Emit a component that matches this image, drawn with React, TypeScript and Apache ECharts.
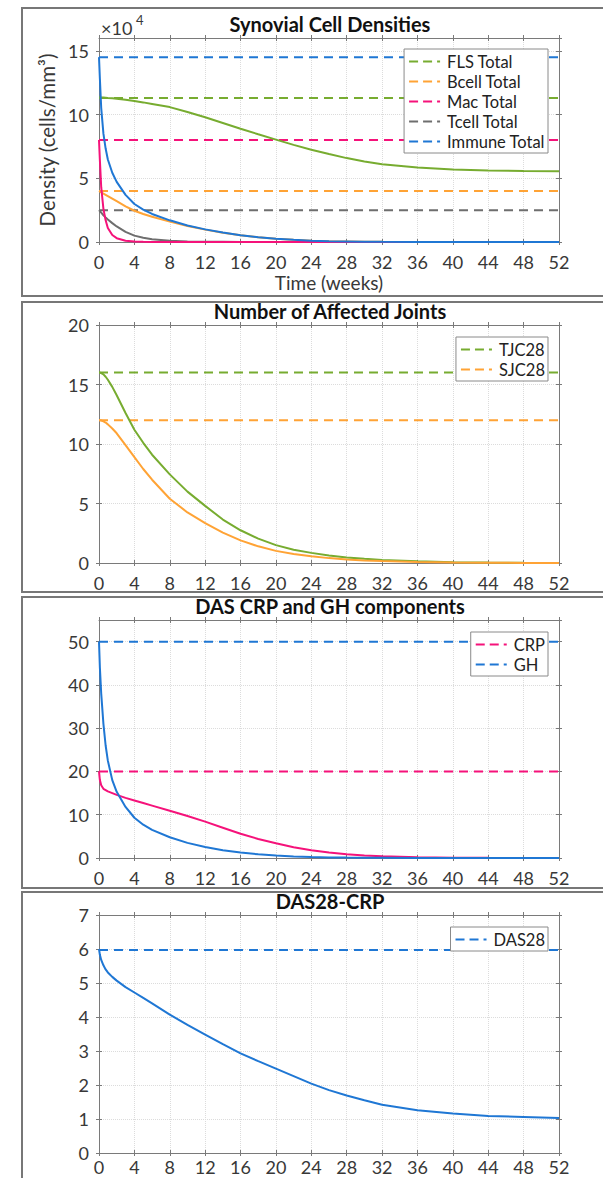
import React, { useEffect, useRef } from 'react';
import * as echarts from 'echarts';

// ---- data ----
const WEEKS = [0, 0.1, 0.25, 0.5, 0.75, 1, 1.5, 2, 3, 4, 5, 6, 8, 10, 12, 14, 16, 18, 20, 22, 24, 26, 28, 30, 32, 36, 40, 44, 48, 52];
const X_TICKS = { min: 0, max: 52, interval: 4 };

// Panel 1 (x 10^4 cells/mm^3)
const FLS = [11.35, 11.35, 11.34, 11.33, 11.32, 11.3, 11.27, 11.23, 11.15, 11.05, 10.95, 10.83, 10.58, 10.2, 9.78, 9.33, 8.88, 8.45, 8.03, 7.62, 7.24, 6.9, 6.58, 6.32, 6.1, 5.84, 5.68, 5.6, 5.57, 5.55];
const BCELL = [4.0, 3.96, 3.9, 3.8, 3.7, 3.6, 3.4, 3.2, 2.8, 2.45, 2.2, 1.98, 1.6, 1.25, 0.97, 0.73, 0.53, 0.38, 0.26, 0.17, 0.1, 0.06, 0.04, 0.02, 0.01, 0, 0, 0, 0, 0];
const MAC = [8, 6.4, 4.3, 2.6, 1.7, 1.1, 0.55, 0.3, 0.1, 0.03, 0.01, 0, 0, 0, 0, 0, 0, 0, 0, 0, 0, 0, 0, 0, 0, 0, 0, 0, 0, 0];
const TCELL = [2.5, 2.42, 2.3, 2.1, 1.93, 1.77, 1.48, 1.22, 0.8, 0.5, 0.33, 0.22, 0.1, 0.045, 0.02, 0.01, 0, 0, 0, 0, 0, 0, 0, 0, 0, 0, 0, 0, 0, 0];
const IMMUNE = [14.5, 12.8, 10.5, 8.5, 7.33, 6.47, 5.43, 4.72, 3.7, 2.98, 2.54, 2.2, 1.7, 1.3, 0.99, 0.74, 0.53, 0.38, 0.26, 0.17, 0.1, 0.06, 0.04, 0.02, 0.01, 0, 0, 0, 0, 0];
const BASE1 = { fls: 11.3, bcell: 4.0, mac: 8.0, tcell: 2.5, immune: 14.5 };

// Panel 2
const TJC = [16, 16, 15.95, 15.85, 15.65, 15.4, 14.8, 14.1, 12.6, 11.2, 10.1, 9.1, 7.45, 6.0, 4.8, 3.65, 2.75, 2.05, 1.5, 1.12, 0.85, 0.63, 0.47, 0.35, 0.26, 0.14, 0.07, 0.04, 0.02, 0.01];
const SJC = [12, 12, 11.97, 11.9, 11.8, 11.65, 11.3, 10.9, 9.9, 8.9, 7.9, 7.0, 5.4, 4.25, 3.35, 2.55, 1.9, 1.4, 1.02, 0.76, 0.56, 0.41, 0.3, 0.22, 0.16, 0.08, 0.04, 0.02, 0.01, 0];
const BASE2 = { tjc: 16, sjc: 12 };

// Panel 3
const CRP = [20, 18, 16.8, 16.0, 15.7, 15.4, 15.0, 14.6, 13.9, 13.3, 12.7, 12.1, 10.9, 9.7, 8.4, 7.0, 5.6, 4.4, 3.4, 2.5, 1.8, 1.25, 0.85, 0.58, 0.4, 0.18, 0.08, 0.04, 0.02, 0.01];
const GH = [50, 44, 38, 31, 26, 22.5, 18, 15.3, 11.8, 9.3, 7.7, 6.5, 4.8, 3.5, 2.55, 1.8, 1.25, 0.85, 0.55, 0.35, 0.22, 0.14, 0.09, 0.05, 0.03, 0.01, 0, 0, 0, 0];
const BASE3 = { crp: 20, gh: 50 };

// Panel 4
const DAS = [6.0, 5.83, 5.68, 5.52, 5.4, 5.31, 5.18, 5.07, 4.88, 4.72, 4.56, 4.4, 4.07, 3.77, 3.48, 3.2, 2.93, 2.7, 2.48, 2.26, 2.04, 1.85, 1.69, 1.55, 1.42, 1.26, 1.16, 1.09, 1.06, 1.03];
const BASE4 = { das: 5.97 };

const Y_AXES = [
  { min: 0, max: 16, interval: 5 },
  { min: 0, max: 20, interval: 5 },
  { min: 0, max: 55, interval: 10 },
  { min: 0, max: 7, interval: 1 },
];

const TITLES = ['Synovial Cell Densities', 'Number of Affected Joints', 'DAS CRP and GH components', 'DAS28-CRP'];

// ---- style ----
const FONT = 'Lato, "Noto Sans", sans-serif';
const GREEN = '#77ac30';
const ORANGE = '#ffa335';
const PINK = '#f5127a';
const GRAY = '#6e6e6e';
const BLUE = '#1f77d4';
const AX = '#7a7a7a';
const TXT = '#383838';

const GRIDS = [
  { left: 99, top: 38, width: 460, height: 204 },
  { left: 99, top: 325, width: 460, height: 238 },
  { left: 99, top: 620, width: 460, height: 238 },
  { left: 99, top: 915, width: 460, height: 238 },
];
const TITLE_Y = [24, 311, 606, 901];
const LEGEND_TOP = [49, 337, 632, 927];
const LABEL_MARGIN = [11, 11, 11, 5];
const PANELS = [
  { y: 8, h: 288 },
  { y: 302, h: 290 },
  { y: 597, h: 291 },
  { y: 892, h: 400 },
];

// dashed legend sample: dash, gap, dash, gap, dot (with corner specks to fix the box)
const DASH_ICON =
  'path://M0,0h0.05v0.05H0z M32.95,13.95h0.05V14h-0.05z M0,6h9v2H0z M14,6h9v2h-9z M28,6h3v2h-3z';

function pairs(vals: number[]) {
  return WEEKS.map((t, i) => [t, vals[i]]);
}
function flat(v: number) {
  return [[X_TICKS.min, v], [X_TICKS.max, v]];
}

function buildAxes() {
  const xAxis: any[] = [];
  const yAxis: any[] = [];
  GRIDS.forEach((_, g) => {
    const xb = { gridIndex: g, type: 'value', min: X_TICKS.min, max: X_TICKS.max, interval: X_TICKS.interval };
    const yb = { gridIndex: g, type: 'value', ...Y_AXES[g] };
    const tick = (inside: boolean) => ({ show: true, inside, length: 3, lineStyle: { color: AX, width: 1 } });
    const line = (show: boolean) => ({ show, onZero: false, lineStyle: { color: AX, width: 1 } });
    const hidden = { axisLabel: { show: false }, splitLine: { show: false } };
    xAxis.push({
      ...xb,
      position: 'bottom',
      axisLine: line(true),
      axisTick: tick(false),
      axisLabel: { show: true, margin: LABEL_MARGIN[g], color: TXT, fontSize: 18, fontFamily: FONT },
      splitLine: { show: true, lineStyle: { type: 'dotted', color: '#dcdcdc', width: 1 } },
      ...(g === 0
        ? { name: 'Time (weeks)', nameLocation: 'middle', nameGap: 31, nameTextStyle: { color: TXT, fontSize: 19, fontFamily: FONT } }
        : {}),
    });
    xAxis.push({ ...xb, position: 'bottom', axisLine: line(false), axisTick: tick(true), ...hidden });
    xAxis.push({ ...xb, position: 'top', axisLine: line(true), axisTick: tick(false), ...hidden });
    xAxis.push({ ...xb, position: 'top', axisLine: line(false), axisTick: tick(true), ...hidden });

    yAxis.push({
      ...yb,
      position: 'left',
      axisLine: line(true),
      axisTick: tick(false),
      axisLabel: {
        show: true,
        margin: 10,
        color: TXT,
        fontSize: 18,
        fontFamily: FONT,
        showMaxLabel: g === 0 || g === 2 ? false : true,
      },
      splitLine: { show: true, lineStyle: { type: 'dotted', color: '#dcdcdc', width: 1 } },
      ...(g === 0
        ? { name: 'Density (cells/mm³)', nameLocation: 'middle', nameGap: 22, nameRotate: 90, nameTextStyle: { color: TXT, fontSize: 20.5, fontFamily: FONT } }
        : {}),
    });
    yAxis.push({ ...yb, position: 'left', axisLine: line(false), axisTick: tick(true), ...hidden });
    yAxis.push({ ...yb, position: 'right', axisLine: line(true), axisTick: tick(false), ...hidden });
    yAxis.push({ ...yb, position: 'right', axisLine: line(false), axisTick: tick(true), ...hidden });
  });
  return { xAxis, yAxis };
}

function dashed(name: string, g: number, v: number, color: string) {
  return {
    name,
    type: 'line',
    xAxisIndex: 4 * g,
    yAxisIndex: 4 * g,
    data: flat(v),
    symbol: 'none',
    lineStyle: { color, width: 2, type: [9, 6] },
    itemStyle: { color },
    z: 2,
  };
}
function solid(name: string, g: number, vals: number[], color: string) {
  return {
    name,
    type: 'line',
    xAxisIndex: 4 * g,
    yAxisIndex: 4 * g,
    data: pairs(vals),
    symbol: 'none',
    smooth: false,
    lineStyle: { color, width: 2 },
    itemStyle: { color },
    z: 3,
  };
}

function legend(g: number, names: string[]) {
  return {
    orient: 'vertical',
    right: 55,
    top: LEGEND_TOP[g],
    data: names,
    icon: DASH_ICON,
    selectedMode: false,
    backgroundColor: '#ffffff',
    borderColor: '#8a8a8a',
    borderWidth: 1,
    borderRadius: 0,
    padding: [4, 3, 3, 5],
    itemWidth: 33,
    itemHeight: 14,
    itemGap: 3,
    textStyle: { color: '#222', fontSize: 16.5, fontFamily: FONT, lineHeight: 14 },
  };
}

export default function App() {
  const ref = useRef<HTMLDivElement>(null);
  useEffect(() => {
    document.body.style.margin = '0';
    if (!ref.current) return;
    const chart = echarts.init(ref.current, undefined, { renderer: 'svg' });
    const { xAxis, yAxis } = buildAxes();
    const graphic: any[] = [];
    PANELS.forEach((p) => {
      graphic.push({
        type: 'rect',
        shape: { x: 22, y: p.y, width: 700, height: p.h },
        style: { fill: 'none', stroke: '#777', lineWidth: 2 },
        z: 0,
        silent: true,
      });
    });
    TITLES.forEach((t, i) => {
      graphic.push({
        type: 'text',
        x: 330,
        y: TITLE_Y[i],
        style: { text: t, align: 'center', verticalAlign: 'middle', font: `bold 20px ${FONT}`, fill: '#111' },
        z: 10,
      });
    });
    graphic.push({
      type: 'text',
      x: 101,
      y: 28,
      style: { text: '×10', verticalAlign: 'middle', font: `18px ${FONT}`, fill: TXT },
    });
    graphic.push({
      type: 'text',
      x: 136,
      y: 20,
      style: { text: '4', verticalAlign: 'middle', font: `13px ${FONT}`, fill: TXT },
    });

    const series = [
      dashed('FLS Total', 0, BASE1.fls, GREEN),
      dashed('Bcell Total', 0, BASE1.bcell, ORANGE),
      dashed('Mac Total', 0, BASE1.mac, PINK),
      dashed('Tcell Total', 0, BASE1.tcell, GRAY),
      dashed('Immune Total', 0, BASE1.immune, BLUE),
      solid('FLS', 0, FLS, GREEN),
      solid('Bcell', 0, BCELL, ORANGE),
      solid('Tcell', 0, TCELL, GRAY),
      solid('Mac', 0, MAC, PINK),
      solid('Immune', 0, IMMUNE, BLUE),
      dashed('TJC28', 1, BASE2.tjc, GREEN),
      dashed('SJC28', 1, BASE2.sjc, ORANGE),
      solid('TJC', 1, TJC, GREEN),
      solid('SJC', 1, SJC, ORANGE),
      dashed('CRP', 2, BASE3.crp, PINK),
      dashed('GH', 2, BASE3.gh, BLUE),
      solid('CRP curve', 2, CRP, PINK),
      solid('GH curve', 2, GH, BLUE),
      dashed('DAS28', 3, BASE4.das, BLUE),
      solid('DAS28 curve', 3, DAS, BLUE),
    ];

    chart.setOption({
      animation: false,
      backgroundColor: '#ffffff',
      grid: GRIDS.map((g) => ({ ...g, containLabel: false })),
      xAxis,
      yAxis,
      legend: [
        legend(0, ['FLS Total', 'Bcell Total', 'Mac Total', 'Tcell Total', 'Immune Total']),
        legend(1, ['TJC28', 'SJC28']),
        legend(2, ['CRP', 'GH']),
        legend(3, ['DAS28']),
      ],
      graphic,
      series,
    });
    return () => chart.dispose();
  }, []);
  return <div ref={ref} style={{ width: 603, height: 1178, position: 'absolute', left: 0, top: 0 }} />;
}
